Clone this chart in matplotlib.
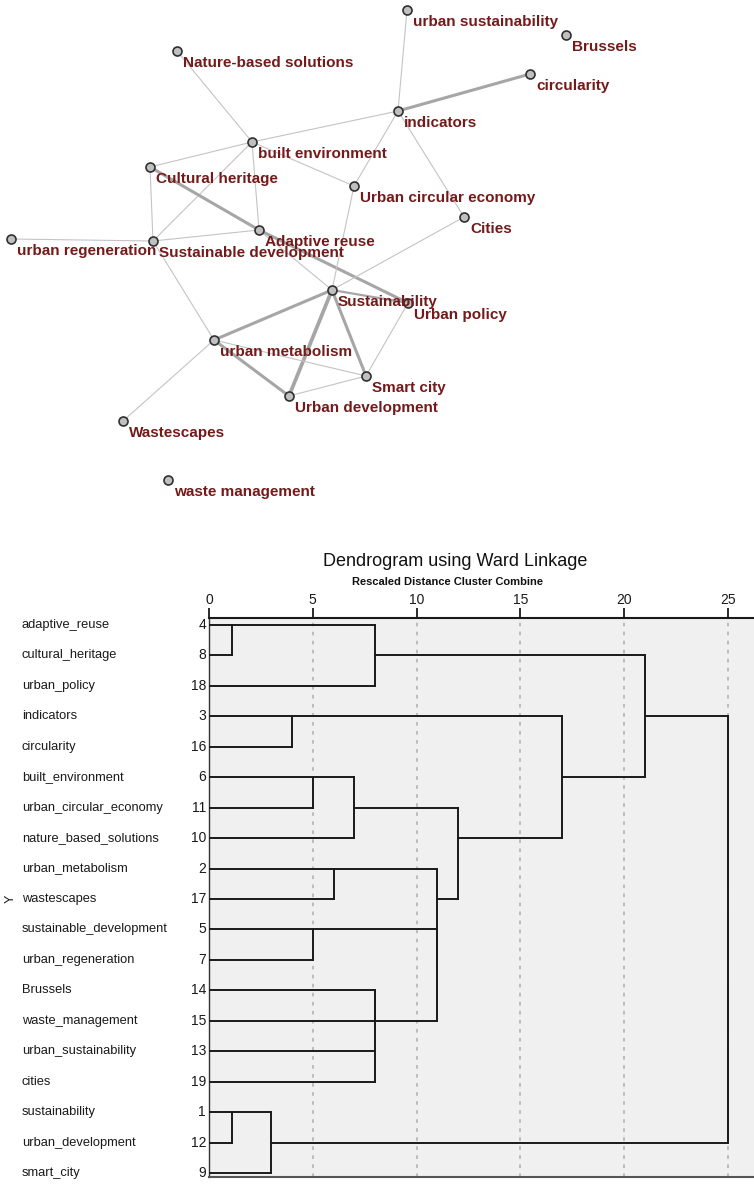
import math

import matplotlib
matplotlib.use("Agg")
import matplotlib.pyplot as plt
from matplotlib.transforms import blended_transform_factory

plt.rcParams["font.family"] = ["Liberation Sans", "DejaVu Sans"]

# ---- co-occurrence network (layout, pixel units) ----
node_names = [
    "urban sustainability", "Brussels", "Nature-based solutions", "circularity",
    "indicators", "built environment", "Cultural heritage", "Urban circular economy",
    "Cities", "Adaptive reuse", "urban regeneration", "Sustainable development",
    "Sustainability", "Urban policy", "urban metabolism", "Smart city",
    "Urban development", "Wastescapes", "waste management",
]
node_x = [407, 566, 177, 530, 398, 252, 150, 354, 464, 259, 11, 153,
          332, 408, 214, 366, 289, 123, 168]
node_y = [10, 35, 51, 74, 111, 142, 167, 186, 217, 230, 239, 241,
          290, 303, 340, 376, 396, 421, 480]

edge_src = [
    "Nature-based solutions", "urban sustainability", "circularity", "indicators",
    "indicators", "indicators", "built environment", "built environment",
    "built environment", "built environment", "Cultural heritage", "Cultural heritage",
    "Adaptive reuse", "urban regeneration", "Adaptive reuse", "Adaptive reuse",
    "Sustainable development", "Urban circular economy", "Cities", "Sustainability",
    "Sustainability", "Sustainability", "Sustainability", "Urban policy",
    "urban metabolism", "urban metabolism", "Urban development", "urban metabolism",
]
edge_dst = [
    "built environment", "indicators", "indicators", "built environment",
    "Urban circular economy", "Cities", "Cultural heritage", "Sustainable development",
    "Adaptive reuse", "Urban circular economy", "Sustainable development", "Adaptive reuse",
    "Sustainable development", "Sustainable development", "Urban policy", "Sustainability",
    "urban metabolism", "Sustainability", "Sustainability", "urban metabolism",
    "Urban development", "Smart city", "Urban policy", "Smart city",
    "Urban development", "Smart city", "Smart city", "Wastescapes",
]
edge_weight = [1, 1, 3, 1, 1, 1, 1, 1, 1, 1, 1, 3, 1, 1, 3, 1,
               1, 1, 1, 3, 4, 3, 2, 1, 3, 1, 1, 1]

# ---- dendrogram (Ward linkage, rescaled distance) ----
leaf_labels = [
    "adaptive_reuse", "cultural_heritage", "urban_policy", "indicators", "circularity",
    "built_environment", "urban_circular_economy", "nature_based_solutions",
    "urban_metabolism", "wastescapes", "sustainable_development", "urban_regeneration",
    "Brussels", "waste_management", "urban_sustainability", "cities",
    "sustainability", "urban_development", "smart_city",
]
case_numbers = [4, 8, 18, 3, 16, 6, 11, 10, 2, 17, 5, 7, 14, 15, 13, 19, 1, 12, 9]

# ids 0..18 are leaves, merge k gets id 19 + k
merge_a = [16, 19, 0, 21, 3, 5, 24, 8, 10, 12, 14, 28, 27, 26, 25, 23, 22, 35]
merge_b = [17, 18, 1, 2, 4, 6, 7, 9, 11, 13, 15, 29, 30, 31, 32, 33, 34, 20]
merge_dist = [1.1, 3, 1.1, 8, 4, 5, 7, 6, 5, 8, 8, 8, 11, 11, 12, 17, 21, 25]
dist_ticks = [0, 5, 10, 15, 20, 25]

W, H = 754, 1184
fig = plt.figure(figsize=(W / 100, H / 100), dpi=100)

# network panel
net_h = 520
ax_net = fig.add_axes([0, 1 - net_h / H, 1, net_h / H])
ax_net.set_xlim(0, W)
ax_net.set_ylim(net_h, 0)
ax_net.axis("off")

pos = {n: (x, y) for n, x, y in zip(node_names, node_x, node_y)}
width_map = {1: 0.8, 2: 1.6, 3: 2.2, 4: 2.7}
for s, d, w in zip(edge_src, edge_dst, edge_weight):
    (x0, y0), (x1, y1) = pos[s], pos[d]
    ax_net.plot([x0, x1], [y0, y1], color="#c4c4c4" if w == 1 else "#a6a6a6",
                lw=width_map[w], solid_capstyle="round", zorder=1)

ax_net.scatter(node_x, node_y, s=42, marker="o", facecolor="#c0c0c0",
               edgecolor="#303030", linewidth=1.2, zorder=3)
for n, x, y in zip(node_names, node_x, node_y):
    ax_net.text(x + 6, y + 16, n, color="#741a1a", fontsize=11, fontweight="bold",
                ha="left", va="baseline", zorder=4)

# dendrogram panel
left_px, top_px, bottom_px = 209, 618, 1177
px_per_unit = 20.75
ax = fig.add_axes([left_px / W, 1 - bottom_px / H,
                   (W - left_px) / W, (bottom_px - top_px) / H])
ax.set_facecolor("#f0f0f0")
ax.set_xlim(0, (W - left_px) / px_per_unit)
row_px = (1173 - 625) / 18
ax.set_ylim(18 + 4 / row_px, -7 / row_px)

for t in dist_ticks[1:]:
    ax.axvline(t, color="#b8b8b8", lw=1.3, ls=(0, (2, 3)), zorder=1)

node_pos = list(range(len(leaf_labels)))
node_h = [0.0] * len(leaf_labels)
for a, b, d in zip(merge_a, merge_b, merge_dist):
    ya, yb = node_pos[a], node_pos[b]
    ax.plot([node_h[a], d], [ya, ya], color="#1a1a1a", lw=1.4, zorder=3)
    ax.plot([node_h[b], d], [yb, yb], color="#1a1a1a", lw=1.4, zorder=3)
    ax.plot([d, d], [ya, yb], color="#1a1a1a", lw=1.4, zorder=3)
    node_pos.append(math.floor((ya + yb) / 2))
    node_h.append(d)

ax.xaxis.tick_top()
ax.set_xticks(dist_ticks)
ax.set_xticklabels([str(t) for t in dist_ticks])
ax.tick_params(axis="x", direction="out", length=7, width=1.3, pad=1,
               labelsize=10, colors="#1a1a1a")
ax.set_yticks([])
for side in ["right"]:
    ax.spines[side].set_visible(False)
ax.spines["top"].set_linewidth(1.5)
ax.spines["top"].set_color("#1a1a1a")
ax.spines["left"].set_linewidth(1.0)
ax.spines["left"].set_color("#333333")
ax.spines["bottom"].set_linewidth(1.5)
ax.spines["bottom"].set_color("#555555")

tr = blended_transform_factory(fig.transFigure, ax.transData)
for i, (lab, num) in enumerate(zip(leaf_labels, case_numbers)):
    ax.text(22 / W, i, lab, transform=tr, ha="left", va="center",
            fontsize=9.3, color="#1a1a1a")
    ax.text(206 / W, i, str(num), transform=tr, ha="right", va="center",
            fontsize=10, color="#1a1a1a")
ax.text(11 / W, 9, "Y", transform=tr, rotation=90, ha="center", va="center",
        fontsize=9, color="#1a1a1a")

fig.text(455 / W, 1 - 562 / H, "Dendrogram using Ward Linkage",
         ha="center", va="center", fontsize=13, color="#111111")
fig.text(447 / W, 1 - 582 / H, "Rescaled Distance Cluster Combine",
         ha="center", va="center", fontsize=8, fontweight="bold", color="#111111")

fig.savefig("out.png", dpi=100, facecolor="white")
